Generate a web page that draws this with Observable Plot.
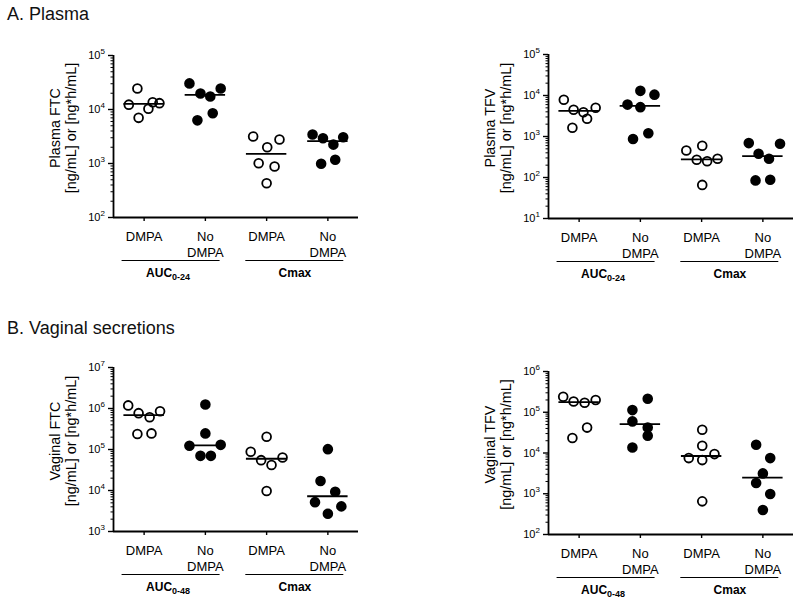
<!DOCTYPE html>
<html><head><meta charset="utf-8">
<script src="https://cdn.jsdelivr.net/npm/d3@7"></script>
<script src="https://cdn.jsdelivr.net/npm/@observablehq/plot@0.6"></script>
<style>
body{margin:0;background:#fff;font-family:"Liberation Sans",Arial,sans-serif;}
#wrap{position:relative;width:800px;height:599px;overflow:hidden;background:#fff;}
.title{position:absolute;left:7px;font-size:18px;color:#111;line-height:18px;white-space:nowrap;}
.panel{position:absolute;}
</style></head>
<body><div id="wrap">
<div class="title" style="top:5px">A. Plasma</div>
<div class="title" style="top:319px">B. Vaginal secretions</div>
</div>
<script>
// categories (x axis) and the two groups under them
const categories = ["DMPA", "No\nDMPA", "DMPA", "No\nDMPA"];
const groupNames = ["AUC", "Cmax"];

// values per category (6 subjects each)
const plasmaFTC = [
  [24500, 12300, 10300, 13600, 13100, 7000],
  [30400, 19800, 17400, 24500, 6300, 8500],
  [3160, 2780, 2000, 1010, 880, 430],
  [3440, 2940, 2240, 3070, 990, 1170]
];
const plasmaFTCJitter = [
  [-0.11, -0.25, 0.07, 0.14, 0.25, -0.09],
  [-0.26, -0.08, 0.08, 0.25, -0.13, 0.12],
  [-0.22, 0.21, 0.01, -0.13, 0.13, 0],
  [-0.25, -0.08, 0.09, 0.25, -0.11, 0.12]
];
const plasmaTFV = [
  [7850, 4480, 3920, 5010, 2700, 1630],
  [13000, 10500, 6000, 5200, 870, 1200],
  [456, 593, 270, 250, 286, 66],
  [690, 664, 378, 286, 85, 88]
];
const plasmaTFVJitter = [
  [-0.25, -0.09, 0.07, 0.27, 0.13, -0.11],
  [0, 0.23, -0.21, 0, -0.12, 0.13],
  [-0.25, 0.01, -0.08, 0.09, 0.26, 0.01],
  [-0.23, 0.28, -0.07, 0.10, -0.12, 0.12]
];
const vaginalFTC = [
  [1.19e6, 7.7e5, 6.1e5, 8.6e5, 2.39e5, 2.47e5],
  [1.25e6, 2.47e5, 1.23e5, 1.30e5, 7.0e4, 7.0e4],
  [2.05e5, 8.8e4, 5.5e4, 4.2e4, 6.4e4, 9.7e3],
  [1.02e5, 1.7e4, 9.3e3, 5.2e3, 4.1e3, 2.7e3]
];
const vaginalFTCJitter = [
  [-0.26, -0.09, 0.09, 0.26, -0.11, 0.12],
  [0, 0, -0.26, 0.25, -0.08, 0.09],
  [0, -0.26, -0.09, 0.08, 0.26, 0],
  [0, -0.12, 0.12, -0.21, 0.22, 0]
];
const vaginalTFV = [
  [2.40e5, 1.84e5, 1.71e5, 1.99e5, 4.2e4, 2.33e4],
  [2.14e5, 1.13e5, 5.96e4, 4.24e4, 2.65e4, 1.37e4],
  [3.72e4, 1.51e4, 7.5e3, 6.7e3, 9.4e3, 650],
  [1.6e4, 7.5e3, 3.16e3, 1.84e3, 990, 400]
];
const vaginalTFVJitter = [
  [-0.26, -0.09, 0.09, 0.27, 0.13, -0.11],
  [0.12, -0.13, -0.13, 0.12, 0.12, -0.13],
  [0.01, 0.01, -0.21, 0.01, 0.21, 0.01],
  [-0.11, 0.12, 0, -0.11, 0.12, 0]
];

const FONT = "Liberation Sans, Arial, Helvetica, sans-serif";

const panels = [
  {left: 0, top: 30, height: 270, ml: 113, mr: 42, mt: 25, mb: 83, domain: [1e2, 1e5],
   yLabel: "Plasma FTC", values: plasmaFTC, jitter: plasmaFTCJitter, sub: "0-24"},
  {left: 400, top: 30, height: 270, ml: 148, mr: 7, mt: 24, mb: 82, domain: [1e1, 1e5],
   yLabel: "Plasma TFV", values: plasmaTFV, jitter: plasmaTFVJitter, sub: "0-24"},
  {left: 0, top: 340, height: 259, ml: 113, mr: 42, mt: 27, mb: 68, domain: [1e3, 1e7],
   yLabel: "Vaginal FTC", values: vaginalFTC, jitter: vaginalFTCJitter, sub: "0-48"},
  {left: 400, top: 340, height: 259, ml: 148, mr: 7, mt: 31, mb: 65, domain: [1e2, 1e6],
   yLabel: "Vaginal TFV", values: vaginalTFV, jitter: vaginalTFVJitter, sub: "0-48"}
];

function drawPanel(p) {
  const open = [], filled = [];
  p.values.forEach((arr, i) => arr.forEach((v, j) => {
    (i % 2 === 1 ? filled : open).push({x: i + p.jitter[i][j], v});
  }));
  const meds = p.values.map((arr, i) => ({cat: i, m: d3.median(arr)}));
  const lo = Math.round(Math.log10(p.domain[0])), hi = Math.round(Math.log10(p.domain[1]));
  const majors = d3.range(lo, hi + 1).map(e => 10 ** e);
  const minors = [];
  for (let e = lo; e < hi; e++) for (let k = 2; k <= 9; k++) minors.push(k * 10 ** e);

  const plot = Plot.plot({
    width: 400, height: p.height,
    marginLeft: p.ml, marginRight: p.mr, marginTop: p.mt, marginBottom: p.mb,
    style: {fontFamily: FONT, color: "#000", background: "transparent", overflow: "visible"},
    x: {type: "linear", domain: [-0.5, 3.5]},
    y: {type: "log", domain: p.domain},
    marks: [
      Plot.axisY(majors, {tickSize: 5, tickFormat: () => "", label: null, strokeWidth: 1.4}),
      Plot.axisY(minors, {tickSize: 2.5, tickFormat: () => "", label: null, strokeWidth: 1}),
      Plot.axisX([0, 1, 2, 3], {tickSize: 4, tickFormat: () => "", label: null, strokeWidth: 1.4}),
      Plot.text(majors, {y: d => d, frameAnchor: "left", text: () => "10", textAnchor: "end", dx: -13, fontSize: 11}),
      Plot.text(majors, {y: d => d, frameAnchor: "left", text: d => String(Math.round(Math.log10(d))),
        textAnchor: "start", dx: -13, dy: -4, fontSize: 8}),
      Plot.text(categories, {x: (d, i) => i, text: d => d, frameAnchor: "bottom", lineAnchor: "top",
        dy: 12, fontSize: 13, lineHeight: 1.25}),
      Plot.ruleX([-0.5], {strokeWidth: 1.8}),
      Plot.ruleY([p.domain[0]], {strokeWidth: 1.8}),
      Plot.dot(filled, {x: "x", y: "v", r: 4.4, fill: "#000", stroke: "#000", strokeWidth: 1.8}),
      Plot.dot(open, {x: "x", y: "v", r: 4.4, fill: "none", stroke: "#000", strokeWidth: 1.8}),
      Plot.ruleY(meds, {y: "m", x1: d => d.cat - 0.33, x2: d => d.cat + 0.33, strokeWidth: 1.8})
    ]
  });

  const svg = d3.select(plot);
  const xs = plot.scale("x");
  const yb = p.height - p.mb;
  const yMid = (p.mt + yb) / 2 - 8;
  // y-axis label (two lines)
  const lab = svg.append("text")
    .attr("transform", `translate(${p.ml - 53},${yMid}) rotate(-90)`)
    .attr("text-anchor", "middle").attr("font-size", 14.4).attr("fill", "#000");
  lab.append("tspan").attr("x", 0).attr("dy", 0).text(p.yLabel);
  lab.append("tspan").attr("x", 0).attr("dy", 15.5).text("[ng/mL] or [ng*h/mL]");

  // group underlines and labels
  const spans = [[-0.36, 1.24, 0.40], [1.66, 3.26, 2.47]];
  spans.forEach(([a, b, c], gi) => {
    svg.append("line")
      .attr("x1", xs.apply(a)).attr("x2", xs.apply(b))
      .attr("y1", yb + 43.5).attr("y2", yb + 43.5)
      .attr("stroke", "#000").attr("stroke-width", 1.2);
    const t = svg.append("text").attr("x", xs.apply(c)).attr("y", yb + 59.5)
      .attr("text-anchor", "middle").attr("font-size", 12).attr("font-weight", "bold").attr("fill", "#000");
    t.append("tspan").text(groupNames[gi]);
    if (gi === 0) t.append("tspan").attr("font-size", 9).attr("dy", 3).text(p.sub);
  });

  const div = document.createElement("div");
  div.className = "panel";
  div.style.left = p.left + "px";
  div.style.top = p.top + "px";
  div.appendChild(plot);
  document.getElementById("wrap").appendChild(div);
}

panels.forEach(drawPanel);
</script>
</body></html>
